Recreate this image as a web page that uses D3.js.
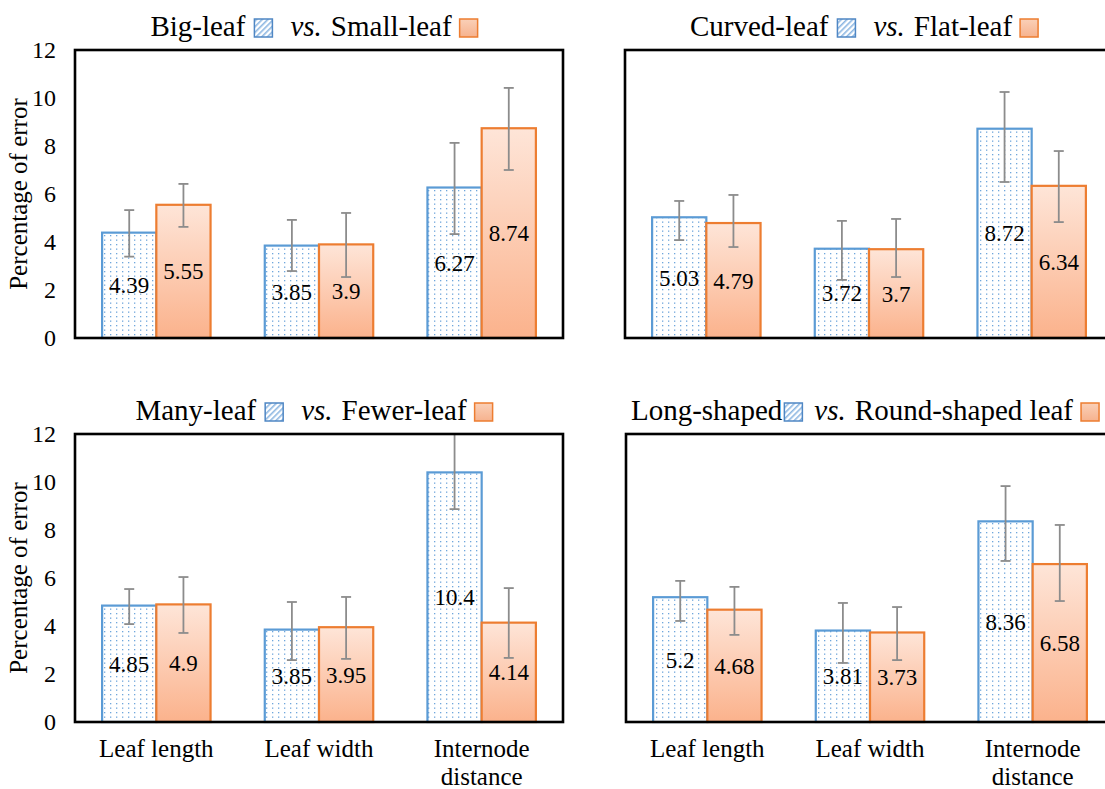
<!DOCTYPE html>
<html>
<head>
<meta charset="utf-8">
<script src="https://cdn.jsdelivr.net/npm/d3@7/dist/d3.min.js"></script>
<style>
  html, body { margin: 0; padding: 0; background: #fff; }
  svg { display: block; font-family: "Liberation Serif", "Times New Roman", serif; }
  svg text { font-family: "Liberation Serif", "Times New Roman", serif; }
</style>
</head>
<body>
<svg id="chart" width="1105" height="789"></svg>
<script>
// ---------------- DATA ----------------
const categories = ["Leaf length", "Leaf width", "Internode distance"];
const yTicks = [0, 2, 4, 6, 8, 10, 12];
const yLabel = "Percentage of error";

// values and error-bar [low, high] bounds
const bigLeaf = [4.39, 3.85, 6.27];
const bigLeafLow = [3.39, 2.79, 4.33];
const bigLeafHigh = [5.33, 4.92, 8.13];
const smallLeaf = [5.55, 3.9, 8.74];
const smallLeafLow = [4.63, 2.54, 7.0];
const smallLeafHigh = [6.42, 5.21, 10.42];

const curvedLeaf = [5.03, 3.72, 8.72];
const curvedLeafLow = [4.08, 2.42, 6.5];
const curvedLeafHigh = [5.71, 4.88, 10.25];
const flatLeaf = [4.79, 3.7, 6.34];
const flatLeafLow = [3.79, 2.54, 4.83];
const flatLeafHigh = [5.96, 4.96, 7.79];

const manyLeaf = [4.85, 3.85, 10.4];
const manyLeafLow = [4.08, 2.58, 8.87];
const manyLeafHigh = [5.54, 5.0, 12.0];
const fewerLeaf = [4.9, 3.95, 4.14];
const fewerLeafLow = [3.71, 2.63, 2.67];
const fewerLeafHigh = [6.04, 5.21, 5.58];

const longShaped = [5.2, 3.81, 8.36];
const longShapedLow = [4.21, 2.46, 6.71];
const longShapedHigh = [5.88, 4.96, 9.83];
const roundShaped = [4.68, 3.73, 6.58];
const roundShapedLow = [3.63, 2.58, 5.04];
const roundShapedHigh = [5.63, 4.79, 8.21];

const titleA = ["Big-leaf", "Curved-leaf", "Many-leaf", "Long-shaped"];
const titleB = ["Small-leaf", "Flat-leaf", "Fewer-leaf", "Round-shaped leaf"];

// ---------------- LAYOUT ----------------
const FONT = "Liberation Serif";
const svg = d3.select("#chart");
const defs = svg.append("defs");

// dotted pattern
const dots = defs.append("pattern").attr("id", "dots").attr("patternUnits", "userSpaceOnUse")
  .attr("width", 6).attr("height", 9);
dots.append("rect").attr("width", 6).attr("height", 9).attr("fill", "#fff");
dots.append("rect").attr("x", 2).attr("y", 1).attr("width", 1.3).attr("height", 1.3).attr("fill", "#6fa6dc");
dots.append("rect").attr("x", 2).attr("y", 5.5).attr("width", 1.3).attr("height", 1.3).attr("fill", "#6fa6dc");

// hatch pattern for legend icon
const hatch = defs.append("pattern").attr("id", "hatch").attr("patternUnits", "userSpaceOnUse")
  .attr("width", 4).attr("height", 4).attr("patternTransform", "rotate(45)");
hatch.append("rect").attr("width", 4).attr("height", 4).attr("fill", "#fff");
hatch.append("rect").attr("width", 1.6).attr("height", 4).attr("fill", "#8db7e2");

// orange gradients
const grad = defs.append("linearGradient").attr("id", "orangeGrad")
  .attr("x1", 0).attr("y1", 0).attr("x2", 0).attr("y2", 1);
grad.append("stop").attr("offset", "0%").attr("stop-color", "#fee5d8");
grad.append("stop").attr("offset", "100%").attr("stop-color", "#fbb28c");
const grad2 = defs.append("linearGradient").attr("id", "orangeGrad2")
  .attr("x1", 0).attr("y1", 0).attr("x2", 0).attr("y2", 1);
grad2.append("stop").attr("offset", "0%").attr("stop-color", "#fad0b8");
grad2.append("stop").attr("offset", "100%").attr("stop-color", "#f6b28e");

const panels = [
  { a: bigLeaf, al: bigLeafLow, ah: bigLeafHigh, b: smallLeaf, bl: smallLeafLow, bh: smallLeafHigh,
    x0: 75, y0: 50, y1: 338, showY: true, showX: false, t: 0, gapIcon: 9, gapVs: 18 },
  { a: curvedLeaf, al: curvedLeafLow, ah: curvedLeafHigh, b: flatLeaf, bl: flatLeafLow, bh: flatLeafHigh,
    x0: 625, y0: 50, y1: 338, showY: false, showX: false, t: 1, gapIcon: 9, gapVs: 18 },
  { a: manyLeaf, al: manyLeafLow, ah: manyLeafHigh, b: fewerLeaf, bl: fewerLeafLow, bh: fewerLeafHigh,
    x0: 75, y0: 434, y1: 722, showY: true, showX: true, t: 2, gapIcon: 9, gapVs: 18 },
  { a: longShaped, al: longShapedLow, ah: longShapedHigh, b: roundShaped, bl: roundShapedLow, bh: roundShapedHigh,
    x0: 626, y0: 434, y1: 722, showY: false, showX: true, t: 3, gapIcon: 2, gapVs: 12 }
];
const boxW = 488;

panels.forEach(p => {
  const g = svg.append("g");
  const x = d3.scaleBand().domain(categories).range([p.x0, p.x0 + boxW]).padding(0);
  const sub = d3.scaleBand().domain(["a", "b"]).range([0, x.bandwidth()]).paddingInner(0).paddingOuter(0.5);
  const y = d3.scaleLinear().domain([0, 12]).range([p.y1, p.y0]);

  const rows = categories.map((c, i) => [
    { c, k: "a", v: p.a[i], lo: p.al[i], hi: p.ah[i] },
    { c, k: "b", v: p.b[i], lo: p.bl[i], hi: p.bh[i] }
  ]).flat();

  // bars
  g.selectAll("rect.bar").data(rows).join("rect")
    .attr("class", "bar")
    .attr("x", d => x(d.c) + sub(d.k))
    .attr("y", d => y(d.v))
    .attr("width", sub.bandwidth())
    .attr("height", d => y(0) - y(d.v))
    .attr("fill", d => d.k === "a" ? "url(#dots)" : "url(#orangeGrad)")
    .attr("stroke", d => d.k === "a" ? "#5b9bd5" : "#ed7d31")
    .attr("stroke-width", 2.2);

  // error bars
  const eg = g.selectAll("g.err").data(rows).join("g").attr("class", "err")
    .attr("stroke", "#8c8c8c").attr("stroke-width", 1.8).attr("fill", "none");
  const cx = d => x(d.c) + sub(d.k) + sub.bandwidth() / 2;
  const hi = d => y(Math.min(12, d.hi));
  const lo = d => y(d.lo);
  eg.append("line").attr("x1", cx).attr("x2", cx).attr("y1", hi).attr("y2", lo);
  eg.filter(d => d.hi < 12).append("line")
    .attr("x1", d => cx(d) - 5).attr("x2", d => cx(d) + 5).attr("y1", hi).attr("y2", hi);
  eg.append("line").attr("x1", d => cx(d) - 5).attr("x2", d => cx(d) + 5).attr("y1", lo).attr("y2", lo);

  // value labels
  g.selectAll("text.val").data(rows).join("text")
    .attr("class", "val")
    .attr("x", cx)
    .attr("y", d => (y(d.v) + y(0)) / 2)
    .attr("dy", "0.35em")
    .attr("text-anchor", "middle")
    .attr("font-family", FONT)
    .attr("font-size", 23)
    .attr("fill", "#000")
    .text(d => d.v);

  // box
  g.append("rect").attr("x", p.x0).attr("y", p.y0).attr("width", boxW).attr("height", p.y1 - p.y0)
    .attr("fill", "none").attr("stroke", "#000").attr("stroke-width", 2.6);

  // y axis
  if (p.showY) {
    const ax = g.append("g").attr("transform", `translate(${p.x0 - 19},0)`)
      .call(d3.axisLeft(y).tickValues(yTicks).tickSize(0).tickPadding(0));
    ax.attr("font-family", FONT);
    ax.select(".domain").remove();
    ax.selectAll("text").attr("font-size", 24).attr("font-family", FONT).attr("fill", "#000");
    g.append("text")
      .attr("transform", `translate(27,${(p.y0 + p.y1) / 2}) rotate(-90)`)
      .attr("text-anchor", "middle")
      .attr("font-family", FONT)
      .attr("font-size", 25)
      .attr("fill", "#000")
      .text(yLabel);
  }

  // x labels
  if (p.showX) {
    categories.forEach(c => {
      const words = c === "Internode distance" ? ["Internode", "distance"] : [c];
      const t = g.append("text").attr("text-anchor", "middle").attr("font-family", FONT)
        .attr("font-size", 25).attr("fill", "#000");
      words.forEach((w, j) => {
        t.append("tspan").attr("x", x(c) + x.bandwidth() / 2).attr("y", p.y1 + 35 + j * 28).text(w);
      });
    });
  }

  // title
  const tg = g.append("g").attr("font-family", FONT);
  const base = p.y0 - 14;
  const TS = 29;
  let cur = 0;
  const pieceA = tg.append("text").attr("x", cur).attr("y", base).attr("font-size", TS).attr("fill", "#000").text(titleA[p.t]);
  cur += pieceA.node().getComputedTextLength() + p.gapIcon;
  tg.append("rect").attr("x", cur).attr("y", base - 17).attr("width", 18).attr("height", 18)
    .attr("fill", "url(#hatch)").attr("stroke", "#4f87c4").attr("stroke-width", 1.5);
  cur += 18 + p.gapVs;
  const vs = tg.append("text").attr("x", cur).attr("y", base).attr("font-size", TS).attr("font-style", "italic").attr("fill", "#000").text("vs.");
  cur += vs.node().getComputedTextLength() + 9;
  const pieceB = tg.append("text").attr("x", cur).attr("y", base).attr("font-size", TS).attr("fill", "#000").text(titleB[p.t]);
  cur += pieceB.node().getComputedTextLength() + 8;
  tg.append("rect").attr("x", cur).attr("y", base - 17).attr("width", 18).attr("height", 18)
    .attr("fill", "url(#orangeGrad2)").attr("stroke", "#ed7d31").attr("stroke-width", 1.5);
  cur += 18;
  const center = p.x0 + boxW / 2 - 5;
  tg.attr("transform", `translate(${center - cur / 2},0)`);
});
</script>
</body>
</html>
